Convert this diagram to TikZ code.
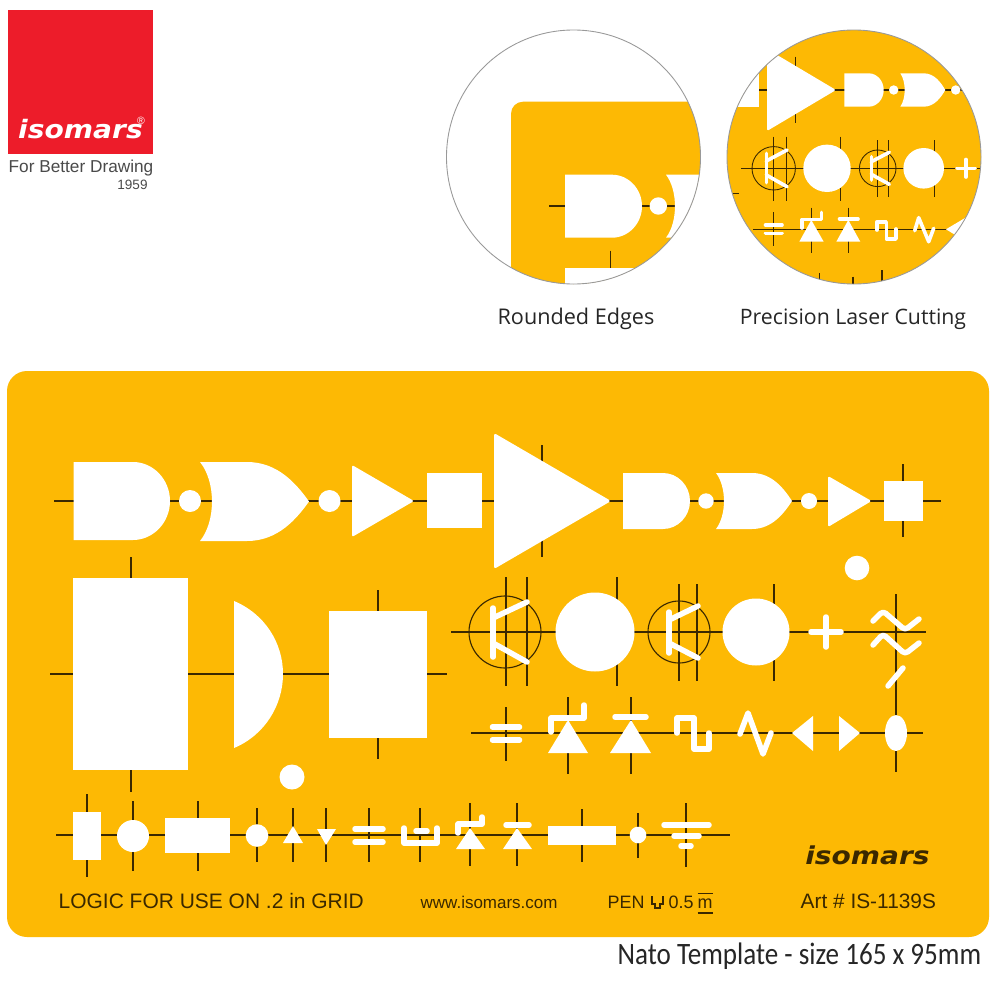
\documentclass[tikz,border=0pt]{standalone}
\usepackage{fontspec}
\setmainfont{Liberation Sans}
\newfontfamily\capfont{Open Sans}
\newfontfamily\natofont{Carlito}
\newfontfamily\logofont{DejaVu Sans}
\definecolor{platecol}{HTML}{FDB904}
\definecolor{leadcol}{HTML}{3A2800}
\definecolor{logored}{HTML}{ED1C2A}
\definecolor{taggray}{HTML}{4A4A4A}
\tikzset{
  lead/.style={draw=leadcol, line width=0.4pt},
  thinlead/.style={draw=leadcol, line width=0.25pt},
  hole/.style={fill=white},
  slot/.style={draw=white, line width=0.55mm, line cap=round, line join=round},
  fineslot/.style={draw=white, line width=0.36mm, line cap=round, line join=round},
  platetext/.style={text=leadcol, inner sep=0pt},
  loupe/.style={draw=gray!80, line width=0.25pt}
}
% left, bend, tip, top, bottom
\newcommand{\andhole}[5]{
  \pgfmathsetmacro{\midy}{(#4+#5)/2}
  \fill[hole] (#1,#4) -- (#2,#4)
    .. controls ({#2+0.55*(#3-#2)},#4) and (#3,{\midy-0.55*(#5-#4)/2}) .. (#3,\midy)
    .. controls (#3,{\midy+0.55*(#5-#4)/2}) and ({#2+0.55*(#3-#2)},#5) .. (#2,#5)
    -- (#1,#5) -- cycle;
}
% left tip, notch, bend, tip, top, bottom
\newcommand{\orhole}[6]{
  \pgfmathsetmacro{\midy}{(#5+#6)/2}
  \fill[hole] (#1,#5) -- (#3,#5)
    .. controls ({#3+0.5*(#4-#3)},#5) and ({#3+0.8*(#4-#3)},{\midy-0.22*(#6-#5)}) .. (#4,\midy)
    .. controls ({#3+0.8*(#4-#3)},{\midy+0.22*(#6-#5)}) and ({#3+0.5*(#4-#3)},#6) .. (#3,#6)
    -- (#1,#6)
    .. controls ({#1+1.33*(#2-#1)},{\midy+0.25*(#6-#5)}) and ({#1+1.33*(#2-#1)},{\midy-0.25*(#6-#5)}) .. cycle;
}
\begin{document}
\begin{tikzpicture}[x=0.01cm, y=-0.01cm]
  \useasboundingbox (0,0) rectangle (1000,1000);
  \fill[white] (0,0) rectangle (1000,1000);

  % logo
  \fill[logored] (8,10) rectangle (153,154);
  \node[text=white, inner sep=0pt, xscale=1.11, transform shape, font=\logofont\fontsize{7.2pt}{8pt}\selectfont\bfseries\itshape] (logoname) at (80.5,129) {isomars};
  \node[text=white, inner sep=0pt, font=\fontsize{3pt}{3pt}\selectfont] (logomark) at (141,121) {®};
  \node[text=taggray, inner sep=0pt, font=\fontsize{4.9pt}{6pt}\selectfont] (logotag) at (81,168) {For Better Drawing};
  \node[text=taggray, inner sep=0pt, font=\fontsize{3.85pt}{5pt}\selectfont] (logoyear) at (132.5,185) {1959};

  % loupe, rounded edge
  \begin{scope}
    \clip (573.5,157) circle[radius=127];
    \fill[platecol, rounded corners=1.2mm] (511,101.7) rectangle (800,400);
    \draw[lead] (549,206) -- (675,206);
    \draw[lead] (610.7,250.7) -- (610.7,270);
    \andhole{565}{612}{642}{174.7}{237.7}
    \fill[hole] (658.3,206) circle[radius=8.7];
    \orhole{666}{675}{730}{770}{174.7}{237.7}
    \fill[hole] (565,267.7) rectangle (720,300);
  \end{scope}
  \draw[loupe] (573.5,157) circle[radius=127];

  % loupe, laser cutting
  \begin{scope}
    \clip (854,157) circle[radius=127];
    \fill[platecol] (720,25) rectangle (990,290);
    \fill[hole] (720,25) rectangle (759.3,106.7);
    \draw[lead] (759,90) -- (990,90);
    \draw[lead] (795.3,56.7) -- (795.3,123);
    \fill[hole, rounded corners=0.15mm] (767,49) -- (836,90) -- (767,131) -- cycle;
    \andhole{844.3}{868.7}{883.7}{73.3}{106.7}
    \fill[hole] (893.7,90) circle[radius=4.7];
    \orhole{900.3}{904.7}{923.7}{945.3}{73.3}{106.7}
    \fill[hole] (955.7,90) circle[radius=4.7];
    \draw[lead] (741,168.3) -- (990,168.3);
    \draw[lead] (720,193.3) -- (738.7,193.3);
    \draw[thinlead] (773.7,168.3) circle[radius=21.7];
    \draw[lead] (773.7,136.7) -- (773.7,200.7);
    \draw[lead] (786.3,136.7) -- (786.3,200.7);
    \draw[fineslot] (766.3,153.3) -- (766.3,182.7);
    \draw[fineslot] (766.3,161) -- (787,150);
    \draw[fineslot] (766.3,175) -- (787,186.7);
    \draw[lead] (840.7,136.7) -- (840.7,200.7);
    \fill[hole] (827,168.3) circle[radius=23.7];
    \draw[thinlead] (877.7,168.3) circle[radius=18.3];
    \draw[lead] (877.7,140) -- (877.7,197.3);
    \draw[lead] (888.3,140) -- (888.3,197.3);
    \draw[fineslot] (871.3,156.7) -- (871.3,180);
    \draw[fineslot] (871.3,161.7) -- (889.3,152.3);
    \draw[fineslot] (871.3,174.3) -- (889.3,184.3);
    \draw[lead] (934.7,140) -- (934.7,197.3);
    \fill[hole] (923.7,168.3) circle[radius=20.3];
    \draw[fineslot] (957,168.3) -- (975,168.3);
    \draw[fineslot] (966,159.5) -- (966,177);
    \draw[lead] (753,229.3) -- (990,229.3);
    \draw[lead] (773.7,212.3) -- (773.7,245.7);
    \draw[fineslot] (765.5,225) -- (782,225);
    \draw[fineslot] (765.5,233.3) -- (782,233.3);
    \draw[lead] (811.3,207.7) -- (811.3,253.3);
    \fill[hole] (811.3,220) -- (823.7,241.7) -- (799.3,241.7) -- cycle;
    \draw[fineslot] (802,228) -- (802,219.5) -- (821.3,219.5) -- (821.3,212.3);
    \draw[lead] (848.3,207.7) -- (848.3,253.3);
    \fill[hole] (848.3,220) -- (860.3,241.7) -- (836.3,241.7) -- cycle;
    \draw[fineslot] (839.5,219) -- (858,219);
    \draw[fineslot] (877,230) -- (877,221.7) -- (886.3,221.7) -- (886.3,239) -- (896,239) -- (896,229);
    \draw[fineslot] (914.7,230.7) -- (918.7,217.7) -- (928.7,241.7) -- (933.7,228.3);
    \fill[hole] (946,229.3) -- (970,215) -- (970,244) -- cycle;
    \draw[lead] (819.3,273) -- (819.3,290);
    \draw[lead] (853,276.7) -- (853,290);
    \draw[lead] (882,270) -- (882,290);
  \end{scope}
  \draw[loupe] (854,157) circle[radius=127];

  \node[text=black!85, inner sep=0pt, font=\capfont\fontsize{6.15pt}{7pt}\selectfont] (roundedlabel) at (576,319) {Rounded Edges};
  \node[text=black!85, inner sep=0pt, font=\capfont\fontsize{6.05pt}{7pt}\selectfont] (laserlabel) at (853,319) {Precision Laser Cutting};

  % template plate
  \fill[platecol, rounded corners=2mm] (7,371) rectangle (989,937);

  % gate row
  \draw[lead] (54,501) -- (941,501);
  \draw[lead] (542,445) -- (542,557);
  \draw[lead] (903,464) -- (903,537);
  \andhole{73.5}{133}{170}{462}{540}
  \fill[hole] (190,501) circle[radius=11];
  \orhole{200}{212}{247}{309}{462}{541}
  \fill[hole] (329.5,501) circle[radius=11];
  \fill[hole, rounded corners=0.2mm] (352,465) -- (414,501) -- (352,537) -- cycle;
  \fill[hole] (427,473) rectangle (482,528);
  \fill[hole, rounded corners=0.25mm] (494,433) -- (611,501) -- (494,569) -- cycle;
  \andhole{623}{663}{690}{473}{529}
  \fill[hole] (706,501) circle[radius=7.7];
  \orhole{716}{724}{752}{792}{473}{529}
  \fill[hole] (809,501) circle[radius=8];
  \fill[hole, rounded corners=0.15mm] (828,476) -- (871.5,501) -- (828,527) -- cycle;
  \fill[hole] (884,481) rectangle (923,521);
  \fill[hole] (857,568) circle[radius=12.3];

  % block row
  \draw[lead] (50,674) -- (447,674);
  \draw[lead] (131,557) -- (131,792);
  \draw[lead] (378,590) -- (378,759);
  \fill[hole] (73,578) rectangle (188,770);
  \fill[hole] (234,601) .. controls (265,614) and (283,643) .. (283,674)
    .. controls (283,705) and (265,735) .. (234,748) -- cycle;
  \fill[hole] (329,611) rectangle (427,738);
  \fill[hole] (292,777) circle[radius=12.5];

  % transistor row
  \draw[lead] (451,632) -- (926,632);
  \draw[lead] (896,594) -- (896,772);
  \draw[thinlead, line width=0.32pt] (505,632) circle[radius=36];
  \draw[lead] (506,577) -- (506,686);
  \draw[lead] (527,577) -- (527,686);
  \draw[slot] (493,608) -- (493,657);
  \draw[slot] (493,618) -- (527,602);
  \draw[slot] (493,643) -- (527,662);
  \draw[lead] (617,577) -- (617,686);
  \fill[hole] (595,632) circle[radius=39.5];
  \draw[thinlead, line width=0.32pt] (679,632) circle[radius=31];
  \draw[lead] (679,584) -- (679,681);
  \draw[lead] (697,584) -- (697,681);
  \draw[slot] (669,612) -- (669,653);
  \draw[slot] (669,620) -- (698,606);
  \draw[slot] (669,643) -- (698,658);
  \draw[lead] (774,584) -- (774,681);
  \fill[hole] (756,632) circle[radius=33.5];
  \draw[slot] (811,632) -- (841,632);
  \draw[slot] (826,617) -- (826,647);
  \draw[slot, rounded corners=0.35mm] (873,621) -- (883,611) -- (905,630) -- (919,619);
  \draw[slot, rounded corners=0.35mm] (873,645) -- (883,634) -- (905,654) -- (919,643);
  \draw[slot] (888,686) -- (903,668);

  % diode row
  \draw[lead] (471,733) -- (923,733);
  \draw[lead] (506,707) -- (506,761);
  \draw[slot] (492.5,727) -- (519.5,727);
  \draw[slot] (492.5,740) -- (519.5,740);
  \draw[lead] (568,697) -- (568,774);
  \fill[hole] (568,720) -- (588,753) -- (548,753) -- cycle;
  \draw[slot] (551,732) -- (551,718) -- (584,718) -- (584,705);
  \draw[lead] (631,697) -- (631,774);
  \fill[hole] (631,720) -- (651,753) -- (610,753) -- cycle;
  \draw[slot] (615,717) -- (646,717);
  \draw[slot] (677,733) -- (677,718) -- (694,718) -- (694,749) -- (709,749) -- (709,733);
  \draw[slot] (740,734) -- (748,713) -- (763,754) -- (771,733);
  \fill[hole] (792,733) -- (813,716) -- (813,751) -- cycle;
  \fill[hole] (860,733) -- (839,716) -- (839,751) -- cycle;
  \fill[hole] (896,733) ellipse[x radius=11, y radius=18];

  % small parts row
  \draw[lead] (56,835) -- (730,835);
  \draw[lead] (87,794) -- (87,877);
  \fill[hole] (73,812) rectangle (101,860);
  \draw[lead] (133,801) -- (133,871);
  \fill[hole] (133,836) circle[radius=16];
  \draw[lead] (198,801) -- (198,871);
  \fill[hole] (165,818) rectangle (230,853);
  \draw[lead] (257,808) -- (257,862);
  \fill[hole] (257,835.5) circle[radius=11.3];
  \draw[lead] (293,808) -- (293,862);
  \fill[hole] (293,826) -- (303,843) -- (283,843) -- cycle;
  \draw[lead] (326,808) -- (326,862);
  \fill[hole] (317,829) -- (336,829) -- (326,845) -- cycle;
  \draw[lead] (369,808) -- (369,862);
  \draw[slot] (355,829) -- (383,829);
  \draw[slot] (355,842) -- (383,842);
  \draw[lead] (420,808) -- (420,862);
  \draw[slot] (404,828) -- (404,843) -- (437,843) -- (437,828);
  \draw[slot] (416,831) -- (427,831);
  \draw[lead] (470,803) -- (470,866);
  \fill[hole] (470,828) -- (485,849) -- (456,849) -- cycle;
  \draw[slot] (458,833) -- (458,824) -- (482,824) -- (482,817);
  \draw[lead] (517,803) -- (517,866);
  \fill[hole] (517,828) -- (532,849) -- (503,849) -- cycle;
  \draw[slot] (506,825) -- (529,825);
  \draw[lead] (582,809) -- (582,862);
  \fill[hole] (548,826) rectangle (616,845);
  \draw[lead] (638,813) -- (638,858);
  \fill[hole] (638,835) circle[radius=8.3];
  \draw[lead] (686,803) -- (686,867);
  \draw[slot] (664,825) -- (709,825);
  \draw[slot] (674,836) -- (699,836);
  \draw[slot] (681,846) -- (691,846);

  % printed text
  \node[platetext, xscale=1.14, transform shape, font=\logofont\fontsize{7pt}{8pt}\selectfont\bfseries\itshape] (platename) at (867.5,855) {isomars};
  \node[platetext, anchor=base west, font=\fontsize{5.96pt}{6pt}\selectfont] (gridnote) at (58,908) {LOGIC FOR USE ON .2 in GRID};
  \node[platetext, anchor=base west, font=\fontsize{4.83pt}{6pt}\selectfont] (website) at (420,908) {www.isomars.com};
  \node[platetext, anchor=base west, font=\fontsize{5.1pt}{6pt}\selectfont] (pentext) at (607,908) {PEN};
  \draw[draw=leadcol, line width=0.3pt] (652,896) -- (652,904) -- (655,904) -- (655,908) -- (660,908) -- (660,904) -- (663,904) -- (663,896);
  \node[platetext, anchor=base west, font=\fontsize{5.1pt}{6pt}\selectfont] (pensize) at (668,908) {0.5};
  \node[platetext, anchor=base west, font=\fontsize{5.1pt}{6pt}\selectfont] (penunit) at (697,908) {\underline{$\overline{\hbox{m}}$}};
  \node[platetext, anchor=base west, font=\fontsize{5.93pt}{6pt}\selectfont] (artnumber) at (800,908) {Art \# IS-1139S};
  \node[text=black!85, anchor=base west, inner sep=0pt, xscale=0.87, transform shape, font=\natofont\fontsize{8.85pt}{9pt}\selectfont] (sizenote) at (617,964) {Nato Template - size 165 x 95mm};
\end{tikzpicture}
\end{document}
